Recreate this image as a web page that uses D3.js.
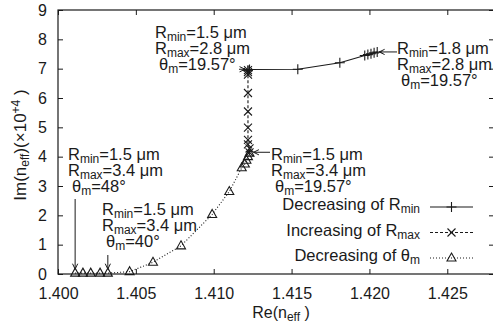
<!DOCTYPE html>
<html>
<head>
<meta charset="utf-8">
<script src="https://cdn.jsdelivr.net/npm/d3@7"></script>
<style>
  body { margin: 0; background: #fff; }
  svg { display: block; font-family: "Liberation Sans", Arial, sans-serif; }
</style>
</head>
<body>
<div id="chart"></div>
<script>
// Tick labels
const xTicks = [1.400, 1.405, 1.410, 1.415, 1.420, 1.425];
const yTicks = [0, 1, 2, 3, 4, 5, 6, 7, 8, 9];

// Decreasing of Rmin (solid, +)
const rminRe = [1.4205, 1.4203, 1.4201, 1.4199, 1.4197, 1.4181, 1.4154, 1.4123, 1.4122, 1.4122];
const rminIm = [7.57, 7.54, 7.51, 7.48, 7.45, 7.20, 6.98, 6.97, 6.95, 6.93];

// Increasing of Rmax (dashed, x)
const rmaxRe = [1.4122, 1.4122, 1.4122, 1.4122, 1.4122, 1.4122, 1.4122, 1.4122, 1.4123, 1.4123];
const rmaxIm = [6.95, 6.88, 6.80, 6.17, 5.54, 4.99, 4.57, 4.42, 4.28, 4.15];

// Decreasing of theta_m (dotted, triangles)
const thetaRe = [1.4011, 1.4016, 1.4021, 1.4027, 1.4032, 1.4046, 1.4061, 1.4079, 1.4099, 1.4110, 1.4118, 1.4120, 1.4121, 1.4122, 1.4123];
const thetaIm = [0.03, 0.03, 0.03, 0.03, 0.03, 0.08, 0.40, 0.96, 2.03, 2.81, 3.62, 3.75, 3.88, 4.00, 4.12];

const W = 493, H = 334;
const svg = d3.select("#chart").append("svg").attr("width", W).attr("height", H);

const x = d3.scaleLinear().domain([1.400, 1.428]).range([58, 494]);
const y = d3.scaleLinear().domain([0, 9]).range([274, 10]);
const ink = "#1a1a1a";

// frame
svg.append("rect")
    .attr("x", 58).attr("y", 10)
    .attr("width", 436).attr("height", 264)
    .attr("fill", "none").attr("stroke", ink).attr("stroke-width", 1.2);

function styleAxis(g) {
    g.attr("font-family", null);
    g.select(".domain").remove();
    g.selectAll("line").attr("stroke", ink);
    g.selectAll("text").attr("fill", ink).style("font-size", "16px");
}

svg.append("g").attr("transform", "translate(0,274)")
    .call(d3.axisBottom(x).tickValues(xTicks).tickSize(-5).tickPadding(14).tickFormat(d3.format(".3f")))
    .call(styleAxis);
svg.append("g").attr("transform", "translate(0,10)")
    .call(d3.axisTop(x).tickValues(xTicks).tickSize(-5).tickFormat(""))
    .call(styleAxis);
svg.append("g").attr("transform", "translate(58,0)")
    .call(d3.axisLeft(y).tickValues(yTicks).tickSize(-5).tickPadding(11))
    .call(styleAxis);
svg.append("g").attr("transform", "translate(494,0)")
    .call(d3.axisRight(y).tickValues(yTicks).tickSize(-5).tickFormat(""))
    .call(styleAxis);

// rich text with subscripts / superscripts
function richText(g, px, py, parts, size, anchor) {
    const t = g.append("text").attr("x", px).attr("y", py)
        .attr("text-anchor", anchor || "start")
        .attr("fill", ink).style("font-size", size + "px");
    let shift = 0;
    parts.forEach(p => {
        const ts = t.append("tspan").text(p[0]);
        const target = p[1] === "sub" ? 3 : p[1] === "sup" ? -6 : 0;
        if (target !== shift) { ts.attr("dy", target - shift); shift = target; }
        if (p[1]) ts.style("font-size", Math.round(size * 0.72) + "px");
    });
    return t;
}

// axis titles
richText(svg, 281, 318, [["Re(n"], ["eff", "sub"], [" )"]], 16, "middle");
const yl = svg.append("g").attr("transform", "translate(26,145) rotate(-90)");
richText(yl, 0, 0, [["Im(n"], ["eff", "sub"], [")(×10"], ["+4", "sup"], [" )"]], 17, "middle");

// series
const series = [
    {name: "rmin", re: rminRe, im: rminIm, dash: null, marker: "plus"},
    {name: "rmax", re: rmaxRe, im: rmaxIm, dash: "3,2", marker: "cross"},
    {name: "theta", re: thetaRe, im: thetaIm, dash: "1,2", marker: "tri"}
];

const markerPath = {
    plus: "M-5,0H5M0,-5V5",
    cross: "M-4,-4L4,4M-4,4L4,-4",
    tri: "M0,-5L4.5,3L-4.5,3Z"
};

const line = d3.line().x(d => x(d[0])).y(d => y(d[1]));

series.forEach(s => {
    const pts = s.re.map((v, i) => [v, s.im[i]]);
    svg.append("path").datum(pts)
        .attr("d", line)
        .attr("fill", "none").attr("stroke", ink).attr("stroke-width", 1.1)
        .attr("stroke-dasharray", s.dash);
    svg.selectAll(".m-" + s.name).data(pts).enter().append("path")
        .attr("class", "m-" + s.name)
        .attr("transform", d => `translate(${x(d[0])},${y(d[1])})`)
        .attr("d", markerPath[s.marker])
        .attr("fill", "none").attr("stroke", ink).attr("stroke-width", 1.1);
});

// legend
const legendNames = [
    [["Decreasing of R"], ["min", "sub"]],
    [["Increasing of R"], ["max", "sub"]],
    [["Decreasing of θ"], ["m", "sub"]]
];
legendNames.forEach((parts, i) => {
    const ly = 207 + i * 25.5;
    richText(svg, 420, ly + 3, parts, 16.5, "end");
    svg.append("line").attr("x1", 430).attr("x2", 473).attr("y1", ly).attr("y2", ly)
        .attr("stroke", ink).attr("stroke-width", 1.1)
        .attr("stroke-dasharray", series[i].dash);
    svg.append("path").attr("transform", `translate(451.5,${ly})`)
        .attr("d", markerPath[series[i].marker])
        .attr("fill", "none").attr("stroke", ink).attr("stroke-width", 1.1);
});

// annotations
function annotation(px, py, rmin, rmax, theta) {
    richText(svg, px, py, [["R"], ["min", "sub"], ["=" + rmin + " μm"]], 16.5);
    richText(svg, px, py + 16, [["R"], ["max", "sub"], ["=" + rmax + " μm"]], 16.5);
    richText(svg, px + 4, py + 32, [["θ"], ["m", "sub"], ["=" + theta + "°"]], 16.5);
}
annotation(155, 38, "1.5", "2.8", "19.57");
annotation(397, 54, "1.8", "2.8", "19.57");
annotation(271, 160, "1.5", "3.4", "19.57");
annotation(68, 160, "1.5", "3.4", "48");
annotation(102, 215, "1.5", "3.4", "40");

function arrow(x1, y1, x2, y2) {
    svg.append("line").attr("x1", x1).attr("y1", y1).attr("x2", x2).attr("y2", y2)
        .attr("stroke", ink).attr("stroke-width", 1);
    const a = Math.atan2(y2 - y1, x2 - x1);
    const h = (da) => [x2 - 6 * Math.cos(a + da), y2 - 6 * Math.sin(a + da)];
    const p1 = h(0.45), p2 = h(-0.45);
    svg.append("path").attr("d", `M${p1}L${x2},${y2}L${p2}`)
        .attr("fill", "none").attr("stroke", ink).attr("stroke-width", 1);
}
arrow(239, y(6.98), x(1.4122) - 3, y(6.98));
arrow(397, y(7.57), x(1.4205) + 2, y(7.57));
arrow(270, y(4.15), x(1.4123) + 4, y(4.15));
arrow(x(1.4011), 199, x(1.4011), y(0.03) - 4);
arrow(x(1.4032), 255, x(1.4032), y(0.03) - 4);
</script>
</body>
</html>
